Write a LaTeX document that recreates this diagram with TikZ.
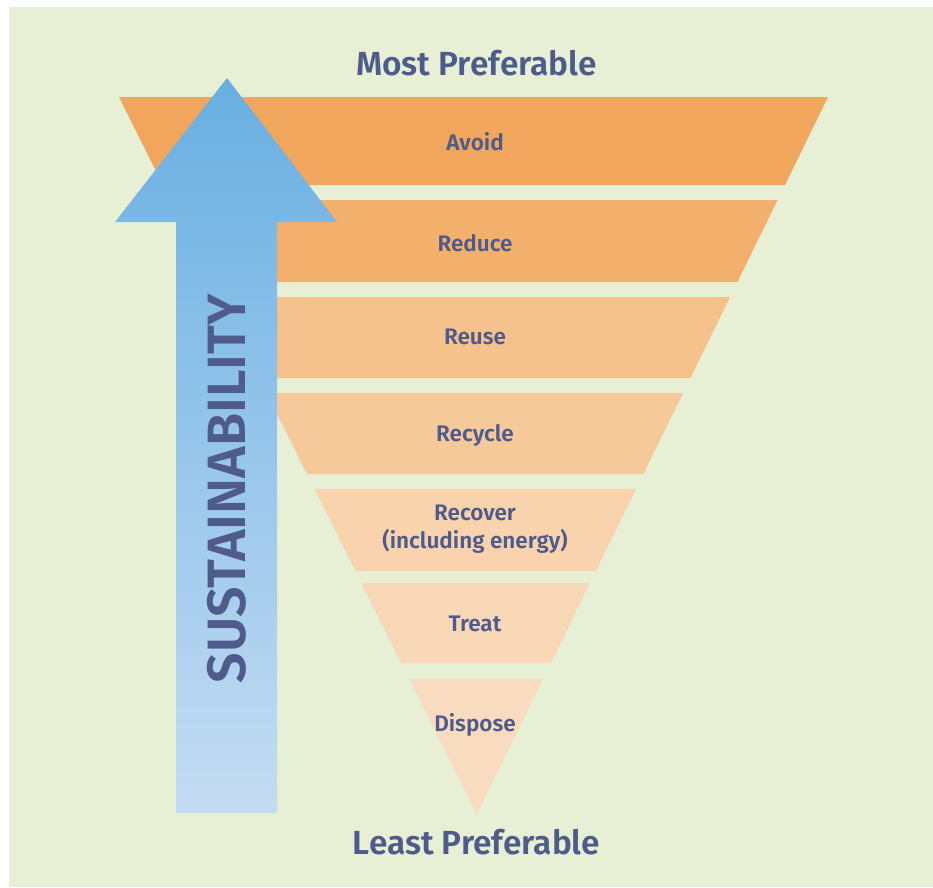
\documentclass[tikz,border=0pt]{standalone}
\usepackage{fontspec}
\setmainfont{Fira Sans}[BoldFont={Fira Sans SemiBold}]
\definecolor{bgc}{HTML}{E7F0D5}
\definecolor{txt}{HTML}{4F5B8B}
\definecolor{c1}{HTML}{F0A65C}
\definecolor{c2}{HTML}{F2B06C}
\definecolor{c3}{HTML}{F5C28D}
\definecolor{c4}{HTML}{F6C99B}
\definecolor{c5}{HTML}{F8D3AD}
\definecolor{c6}{HTML}{F9D8B7}
\definecolor{c7}{HTML}{F9DCBF}
\definecolor{arT}{HTML}{68AFE2}
\definecolor{arB}{HTML}{C4DCF3}
\begin{document}
\begin{tikzpicture}[x=1pt,y=-1pt,
  lbl/.style={text=txt, font=\bfseries\fontsize{22.5}{28}\selectfont, align=center, anchor=base, inner sep=0pt},
  ttl/.style={text=txt, font=\bfseries\fontsize{33.4}{40}\selectfont, anchor=base, inner sep=0pt}]
\useasboundingbox (0,0) rectangle (933,887);
\fill[bgc] (9,7) rectangle (933,887);
\foreach \t/\b/\c in {97/185/c1, 200/282/c2, 297/378/c3, 393/474/c4, 489/571/c5, 583/663/c6, 679/816/c7}{
  \pgfmathsetmacro\xlt{119+0.4986*(\t-97)}
  \pgfmathsetmacro\xrt{828-0.4896*(\t-97)}
  \pgfmathsetmacro\xlb{119+0.4986*(\b-97)}
  \pgfmathsetmacro\xrb{828-0.4896*(\b-97)}
  \fill[\c] (\xlt,\t) -- (\xrt,\t) -- (\xrb,\b) -- (\xlb,\b) -- cycle;
}
\shade[top color=arT, bottom color=arB] (227,78) -- (337,222) -- (277,222) -- (277,813) -- (176,813) -- (176,222) -- (115,222) -- cycle;
\node[ttl] (most) at (476.5,75) {Most Preferable};
\node[ttl] (least) at (476.5,854) {Least Preferable};
\node[lbl] (avoid) at (475,150) {Avoid};
\node[lbl] (reduce) at (475,251.7) {Reduce};
\node[lbl] (reuse) at (475,344) {Reuse};
\node[lbl] (recycle) at (475,441.7) {Recycle};
\node[lbl] (recover) at (475,548) {Recover\\(including energy)};
\node[lbl] (treat) at (475,631.7) {Treat};
\node[lbl] (dispose) at (475,731.7) {Dispose};
\node[rotate=90, anchor=base, inner sep=0pt, text=txt, font=\bfseries\fontsize{54}{60}\selectfont] (sus) at (245,488.5) {SUSTAINABILITY};
\end{tikzpicture}
\end{document}
